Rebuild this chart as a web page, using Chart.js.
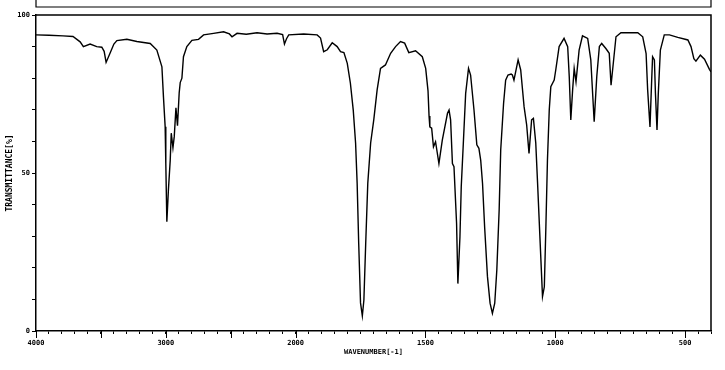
<!DOCTYPE html>
<html>
<head>
<meta charset="utf-8">
<script src="https://cdn.jsdelivr.net/npm/chart.js"></script>
<style>
    body { margin: 0; background: #fff; }
</style>
</head>
<body>
<canvas id="irChart" width="725" height="370"></canvas>
<script>
// wavenumbers (cm-1), high to low
const wavenumbers = [
    4000, 3900, 3792, 3715, 3660, 3635, 3583, 3532, 3493, 3475, 3460, 3429, 3400, 3377, 3300, 3223,
    3120, 3069, 3030, 3018, 3005, 3000, 2992, 2980, 2966, 2958, 2945, 2935, 2922, 2910, 2897, 2889,
    2876, 2864, 2838, 2799, 2748, 2709, 2632, 2555, 2510, 2490, 2451, 2380, 2297, 2220, 2143, 2100,
    2086, 2070, 2053, 1969, 1917, 1904, 1892, 1878, 1859, 1840, 1827, 1814, 1801, 1789, 1778, 1769,
    1763, 1757, 1750, 1743, 1737, 1730, 1722, 1711, 1699, 1686, 1673, 1654, 1634, 1615, 1596, 1580,
    1564, 1538, 1512, 1499, 1490, 1486, 1483, 1476, 1469, 1461, 1448, 1435, 1415, 1409, 1403, 1396,
    1390, 1380, 1375, 1367, 1362, 1354, 1345, 1334, 1326, 1313, 1302, 1294, 1287, 1280, 1272, 1261,
    1251, 1242, 1233, 1225, 1216, 1210, 1199, 1191, 1182, 1170, 1165, 1159, 1143, 1133, 1120, 1110,
    1101, 1091, 1084, 1075, 1068, 1058, 1049, 1042, 1036, 1030, 1023, 1017, 1004, 998, 985, 966,
    952, 946, 940, 933, 927, 920, 908, 895, 875, 863, 850, 840, 830, 821, 805, 792,
    785, 779, 766, 747, 682, 663, 650, 644, 635, 628, 625, 618, 614, 608, 603, 595,
    580, 560, 528, 489, 477, 466, 458, 441, 425, 406, 400
];

// transmittance (%) at each wavenumber above
const transmittance = [
    93.7, 93.6, 93.4, 93.2, 91.5, 90.0, 90.8, 90.0, 89.8, 88.5, 85.0, 88.0, 90.8, 91.9, 92.3, 91.6,
    91.0, 88.9, 83.6, 74.0, 64.6, 53.0, 34.6, 44.6, 54.0, 62.6, 58.0, 61.5, 70.6, 65.0, 75.3, 78.6,
    80.0, 86.8, 90.0, 92.0, 92.3, 93.7, 94.2, 94.7, 94.0, 93.1, 94.2, 93.9, 94.4, 94.0, 94.2, 93.8,
    90.8, 92.5, 93.7, 94.0, 93.7, 92.7, 88.4, 89.0, 91.2, 90.0, 88.4, 88.1, 84.7, 78.4, 69.9, 59.5,
    46.8, 27.8, 8.9, 4.8, 9.8, 27.8, 46.8, 59.5, 66.8, 76.3, 83.1, 84.2, 87.9, 90.0, 91.6, 91.1,
    88.1, 88.7, 86.8, 83.1, 76.0, 68.0, 64.6, 64.2, 58.3, 59.9, 53.0, 60.4, 68.9, 69.9, 66.8, 53.0,
    52.0, 34.0, 15.0, 29.8, 45.7, 59.4, 75.2, 83.1, 81.0, 70.0, 58.9, 57.8, 54.0, 46.7, 33.0, 17.2,
    8.8, 5.6, 8.8, 19.3, 38.3, 57.3, 72.0, 79.4, 81.0, 81.3, 81.0, 79.4, 85.8, 82.6, 71.0, 65.2,
    56.2, 66.8, 67.3, 59.5, 46.8, 27.8, 10.9, 14.0, 33.0, 54.0, 70.0, 77.3, 79.4, 82.6, 90.0, 92.6,
    90.0, 80.5, 66.8, 76.3, 83.1, 78.9, 88.9, 93.4, 92.6, 85.8, 66.2, 80.5, 90.0, 91.0, 89.4, 87.9,
    77.8, 82.6, 93.1, 94.4, 94.4, 93.1, 87.8, 76.3, 64.6, 80.5, 86.8, 85.8, 75.2, 63.6, 75.2, 88.9,
    93.7, 93.7, 92.9, 92.1, 90.0, 86.2, 85.4, 87.3, 86.0, 82.8, 82.0
];

// axis labels
const xLabels = [4000, 3000, 2000, 1500, 1000, 500];
const xMajor = [4000, 3500, 3000, 2500, 2000, 1500, 1000, 500];
const yLabels = [0, 50, 100];

// the x axis is squeezed 2:1 above 2000 cm-1, so plot against a position value
function toPos(w) {
    return w >= 2000 ? (4000 - w) / 2 : 1000 + (2000 - w);
}
function fromPos(u) {
    return u <= 1000 ? 4000 - 2 * u : 3000 - u;
}

var points = [];
for (var i = 0; i < wavenumbers.length; i++) {
    points.push({ x: toPos(wavenumbers[i]), y: transmittance[i] });
}

const labelFont = { family: 'DejaVu Sans Mono', size: 7, weight: 'bold' };

// frame on top/right, the cut off header box and the longer major ticks
const framePlugin = {
    id: 'frame',
    afterDraw(chart) {
        const ctx = chart.ctx;
        const a = chart.chartArea;
        const xs = chart.scales.x;
        ctx.save();
        ctx.strokeStyle = '#000';
        ctx.lineWidth = 1.5;
        ctx.beginPath();
        ctx.moveTo(a.left, a.top);
        ctx.lineTo(a.right, a.top);
        ctx.lineTo(a.right, a.bottom);
        ctx.stroke();

        ctx.lineWidth = 1.2;
        ctx.beginPath();
        ctx.moveTo(a.left, 0);
        ctx.lineTo(a.left, 7);
        ctx.lineTo(a.right, 7);
        ctx.lineTo(a.right, 0);
        ctx.stroke();

        ctx.lineWidth = 1;
        xMajor.forEach(w => {
            var px = Math.round(xs.getPixelForValue(toPos(w))) + 0.5;
            ctx.beginPath();
            ctx.moveTo(px, a.bottom);
            ctx.lineTo(px, a.bottom + 7);
            ctx.stroke();
        });
        ctx.restore();
    }
};

const config = {
    type: 'line',
    data: {
        datasets: [{
            data: points,
            borderColor: '#000',
            borderWidth: 1.4,
            pointRadius: 0,
            tension: 0,
            fill: false
        }]
    },
    options: {
        responsive: false,
        animation: false,
        devicePixelRatio: 1,
        layout: { padding: { top: 15, right: 14, left: 0, bottom: 0 } },
        plugins: {
            legend: { display: false },
            tooltip: { enabled: false }
        },
        scales: {
            x: {
                type: 'linear',
                min: 0,
                max: 2600,
                afterFit: (scale) => { scale.height = 39; },
                afterBuildTicks: (scale) => {
                    var t = [];
                    for (var u = 0; u <= 2600; u += 50) t.push({ value: u });
                    scale.ticks = t;
                },
                grid: { drawOnChartArea: false, tickLength: 3, color: '#000' },
                border: { color: '#000', width: 1.5 },
                ticks: {
                    autoSkip: false,
                    maxRotation: 0,
                    padding: 5,
                    color: '#000',
                    font: labelFont,
                    callback: (u) => xLabels.includes(fromPos(u)) ? String(fromPos(u)) : ''
                },
                title: {
                    display: true,
                    text: 'WAVENUMBER[-1]',
                    color: '#000',
                    font: labelFont,
                    padding: { top: 0, bottom: 14 }
                }
            },
            y: {
                min: 0,
                max: 100,
                afterFit: (scale) => { scale.width = 36; },
                afterBuildTicks: (scale) => {
                    var t = [];
                    for (var v = 0; v <= 100; v += 10) t.push({ value: v });
                    scale.ticks = t;
                },
                grid: { drawOnChartArea: false, tickLength: 4, color: '#000' },
                border: { color: '#000', width: 1.5 },
                ticks: {
                    autoSkip: false,
                    padding: 2,
                    color: '#000',
                    font: labelFont,
                    callback: (v) => yLabels.includes(v) ? String(v) : ''
                },
                title: {
                    display: true,
                    text: 'TRANSMITTANCE[%]',
                    color: '#000',
                    font: { family: 'DejaVu Sans Mono', size: 8, weight: 'bold' },
                    padding: { top: 5, bottom: 0 }
                }
            }
        }
    },
    plugins: [framePlugin]
};

const myChart = new Chart(document.getElementById('irChart'), config);
</script>
</body>
</html>
